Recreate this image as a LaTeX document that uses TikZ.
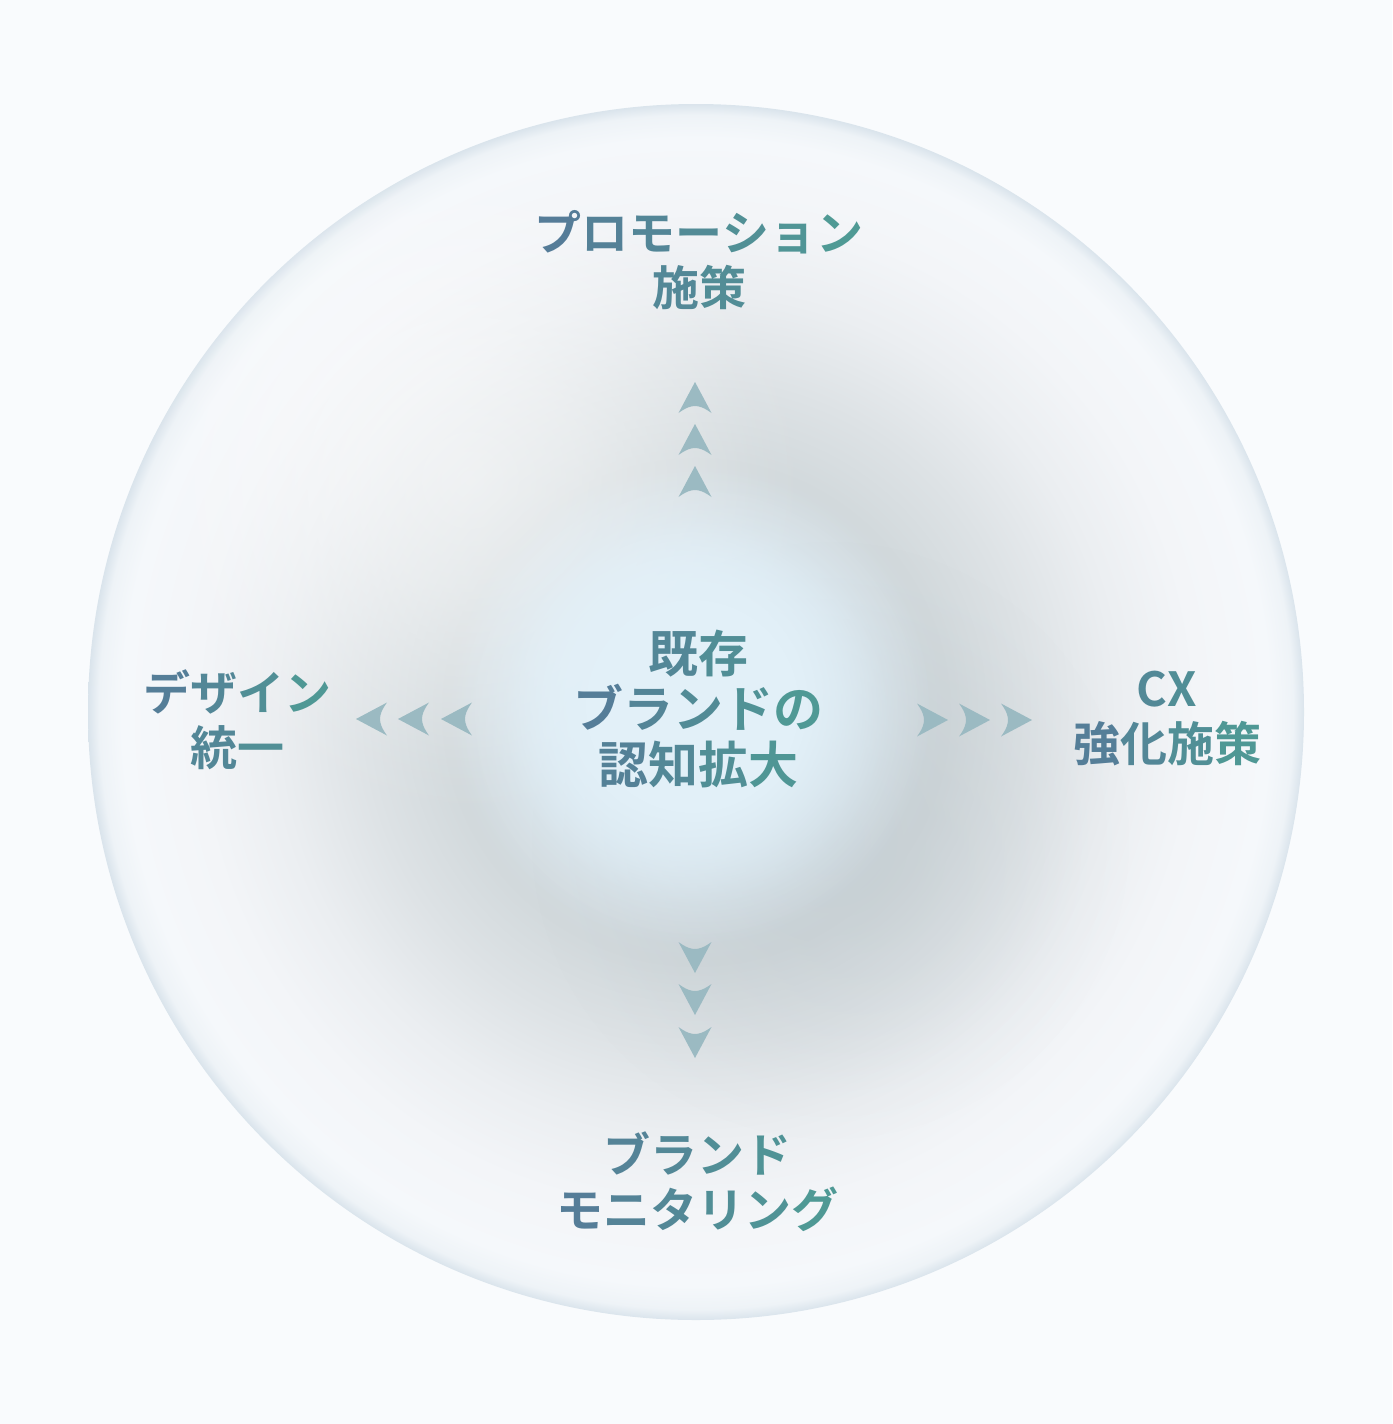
\documentclass[tikz,border=0pt]{standalone}
\usepackage{fontspec}
\newfontfamily\jpfont{Noto Sans CJK JP}[BoldFont=* Bold]
\usetikzlibrary{fadings}
\definecolor{bgc}{HTML}{F9FBFD}
\definecolor{o0}{HTML}{E7F3FA}
\definecolor{o1}{HTML}{E0EFF7}
\definecolor{o2}{HTML}{D9E6EE}
\definecolor{o3}{HTML}{D3DCE1}
\definecolor{o4}{HTML}{D2D9DC}
\definecolor{o5}{HTML}{DDE2E5}
\definecolor{o6}{HTML}{EBEEF1}
\definecolor{o7}{HTML}{F3F5F8}
\definecolor{o8}{HTML}{F5F8FB}
\definecolor{o9}{HTML}{EEF3F7}
\definecolor{oE}{HTML}{DAE4EC}
\definecolor{shadowc}{HTML}{B4BFC5}
\definecolor{corec}{HTML}{E2F0F8}
\definecolor{arrowc}{HTML}{9BBAC2}
\definecolor{tL}{HTML}{567A98}
\definecolor{tR}{HTML}{4E9C95}
\pgfdeclareradialshading{orbshade}{\pgfpointorigin}{color(0bp)=(o0); color(3.7bp)=(o1); color(6.0bp)=(o2); color(7.9bp)=(o3); color(10.3bp)=(o4); color(13.6bp)=(o5); color(17.3bp)=(o6); color(20.6bp)=(o7); color(23.6bp)=(o8); color(24.55bp)=(o9); color(25bp)=(oE); color(50bp)=(oE)}
\pgfdeclareradialshading{softshade}{\pgfpointorigin}{color(0bp)=(white); color(8bp)=(white!80!black); color(16bp)=(white!40!black); color(21bp)=(white!12!black); color(25bp)=(black); color(50bp)=(black)}
\pgfdeclarefading{softfade}{\pgfuseshading{softshade}}
\pgfdeclareradialshading{coreshade}{\pgfpointorigin}{color(0bp)=(white); color(11bp)=(white); color(18bp)=(white!50!black); color(25bp)=(black); color(50bp)=(black)}
\pgfdeclarefading{corefade}{\pgfuseshading{coreshade}}
\newcommand{\gc}[2]{\textcolor{tL!#1!tR}{#2}}
\tikzset{
  lbl/.style={font=\jpfont\bfseries\fontsize{47}{55}\selectfont, align=center, inner sep=0pt},
  ctr/.style={font=\jpfont\bfseries\fontsize{50}{55.5}\selectfont, align=center, inner sep=0pt},
  chev/.pic={\fill[arrowc] (0,0) -- (16.5,31) .. controls (9,25.5) and (4,24) .. (0,24) .. controls (-4,24) and (-9,25.5) .. (-16.5,31) -- cycle;}
}
\begin{document}
\begin{tikzpicture}[x=1pt,y=-1pt]
\useasboundingbox (0,0) rectangle (1392,1424);
\fill[bgc] (0,0) rectangle (1392,1424);
\shade[shading=orbshade] (696,712) circle (608);
\begin{scope}
  \clip (696,712) circle (608);
  \fill[white, fill opacity=0.55, path fading=softfade] (470,480) circle (340);
  \fill[shadowc, fill opacity=0.35, path fading=softfade] (830,840) circle (300);
  \fill[corec, path fading=corefade] (692,706) circle (240);
\end{scope}
% chevrons
\pic at (695,382) {chev};
\pic at (695,424) {chev};
\pic at (695,466) {chev};
\pic[rotate=180] at (695,973) {chev};
\pic[rotate=180] at (695,1015) {chev};
\pic[rotate=180] at (695,1058) {chev};
\pic[rotate=90] at (356,719) {chev};
\pic[rotate=90] at (398,719) {chev};
\pic[rotate=90] at (441,719) {chev};
\pic[rotate=-90] at (948,720) {chev};
\pic[rotate=-90] at (990,720) {chev};
\pic[rotate=-90] at (1032,720) {chev};
% labels
\node[ctr] (core) at (698,708.5) {\gc{61}{既}\gc{40}{存}\\\gc{90}{ブ}\gc{69}{ラ}\gc{49}{ン}\gc{29}{ド}\gc{9}{の}\\\gc{79}{認}\gc{59}{知}\gc{38}{拡}\gc{17}{大}};
\node[lbl] (promo) at (699,260) {\gc{93}{プ}\gc{79}{ロ}\gc{64}{モ}\gc{50}{ー}\gc{36}{シ}\gc{21}{ョ}\gc{7}{ン}\\\gc{58}{施}\gc{44}{策}};
\node[lbl] (design) at (237,719.5) {\gc{88}{デ}\gc{62}{ザ}\gc{37}{イ}\gc{12}{ン}\\\gc{63}{統}\gc{37}{一}};
\node[lbl] (cx) at (1167,718.5) {\gc{57}{C}\gc{42}{X}\\\gc{88}{強}\gc{63}{化}\gc{37}{施}\gc{12}{策}};
\node[lbl] (monitor) at (697,1182) {\gc{75}{ブ}\gc{58}{ラ}\gc{42}{ン}\gc{26}{ド}\\\gc{92}{モ}\gc{75}{ニ}\gc{58}{タ}\gc{42}{リ}\gc{25}{ン}\gc{8}{グ}};
\end{tikzpicture}
\end{document}
